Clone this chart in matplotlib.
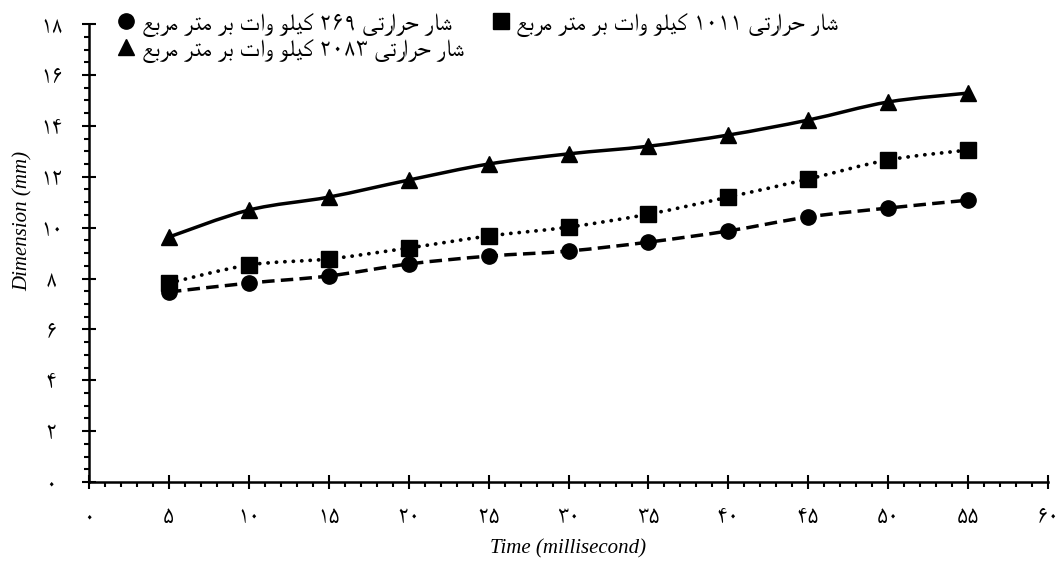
import re

import matplotlib
matplotlib.use("Agg")
import matplotlib.pyplot as plt
import numpy as np
from matplotlib.patches import PathPatch
from matplotlib.path import Path
from matplotlib.ticker import MultipleLocator

# data
TIME = [5, 10, 15, 20, 25, 30, 35, 40, 45, 50, 55]
DIM_269 = [7.47, 7.82, 8.10, 8.57, 8.88, 9.08, 9.43, 9.87, 10.42, 10.77, 11.08]
DIM_1011 = [7.82, 8.53, 8.77, 9.20, 9.67, 10.02, 10.53, 11.20, 11.91, 12.66, 13.05]
DIM_2083 = [9.63, 10.69, 11.20, 11.87, 12.50, 12.90, 13.20, 13.64, 14.23, 14.94, 15.29]

LABEL_269 = "شار حرارتی ۲۶۹ کیلو وات بر متر مربع"
LABEL_1011 = "شار حرارتی ۱۰۱۱ کیلو وات بر متر مربع"
LABEL_2083 = "شار حرارتی ۲۰۸۳ کیلو وات بر متر مربع"

X_TICKS = [0, 5, 10, 15, 20, 25, 30, 35, 40, 45, 50, 55, 60]
Y_TICKS = [0, 2, 4, 6, 8, 10, 12, 14, 16, 18]
X_LABEL = "Time (millisecond)"
Y_LABEL = "Dimension (mm)"

ARABIC_FONT = ["FreeSerif", "DejaVu Sans"]
LATIN_FONT = ["Liberation Serif", "DejaVu Serif"]

# presentation forms: isolated, final, initial, medial (None = does not join forward)
FORMS = {
    "ا": ("\uFE8D", "\uFE8E", None, None),
    "ب": ("\uFE8F", "\uFE90", "\uFE91", "\uFE92"),
    "ت": ("\uFE95", "\uFE96", "\uFE97", "\uFE98"),
    "ح": ("\uFEA1", "\uFEA2", "\uFEA3", "\uFEA4"),
    "ر": ("\uFEAD", "\uFEAE", None, None),
    "ش": ("\uFEB5", "\uFEB6", "\uFEB7", "\uFEB8"),
    "ع": ("\uFEC9", "\uFECA", "\uFECB", "\uFECC"),
    "ل": ("\uFEDD", "\uFEDE", "\uFEDF", "\uFEE0"),
    "م": ("\uFEE1", "\uFEE2", "\uFEE3", "\uFEE4"),
    "و": ("\uFEED", "\uFEEE", None, None),
    "ی": ("\uFBFC", "\uFBFD", "\uFBFE", "\uFBFF"),
    "ک": ("\uFB8E", "\uFB8F", "\uFB90", "\uFB91"),
}

FA_DIGITS = str.maketrans("0123456789", "۰۱۲۳۴۵۶۷۸۹")


def _shape(text: str) -> str:
    out = []
    for i, ch in enumerate(text):
        if ch not in FORMS:
            out.append(ch)
            continue
        prev = text[i - 1] if i > 0 else ""
        nxt = text[i + 1] if i + 1 < len(text) else ""
        joins_prev = prev in FORMS and FORMS[prev][2] is not None
        joins_next = FORMS[ch][2] is not None and nxt in FORMS
        iso, fin, ini, med = FORMS[ch]
        if joins_prev and joins_next:
            out.append(med)
        elif joins_prev:
            out.append(fin)
        elif joins_next:
            out.append(ini)
        else:
            out.append(iso)
    return "".join(out)


def visual(text: str) -> str:
    """Shape and reorder RTL text so matplotlib's LTR layout shows it right."""
    rev = _shape(text)[::-1]
    return re.sub(r"[۰-۹]+", lambda m: m.group(0)[::-1], rev)


def fa_num(v) -> str:
    return str(v).translate(FA_DIGITS)


def smooth_path(xs, ys) -> Path:
    # Bezier through the points with Catmull-Rom style tangents (like a spreadsheet "smoothed line")
    pts = np.column_stack([xs, ys]).astype(float)
    verts = [pts[0]]
    codes = [Path.MOVETO]
    n = len(pts)
    for i in range(n - 1):
        p0 = pts[i - 1] if i > 0 else pts[i]
        p1 = pts[i]
        p2 = pts[i + 1]
        p3 = pts[i + 2] if i + 2 < n else pts[i + 1]
        c1 = p1 + (p2 - p0) / 6.0
        c2 = p2 - (p3 - p1) / 6.0
        verts += [c1, c2, p2]
        codes += [Path.CURVE4] * 3
    return Path(verts, codes)


def main() -> None:
    fig = plt.figure(figsize=(10.58, 5.61), dpi=100)
    ax = fig.add_axes([0.0841, 0.1408, 0.9065, 0.8162])

    series = [
        (DIM_269, "o", dict(linestyle=(0, (3.6, 1.8)), capstyle="butt", lw=2.5)),
        (DIM_1011, "s", dict(linestyle=(0, (0.05, 2.2)), capstyle="round", lw=2.7)),
        (DIM_2083, "^", dict(linestyle="-", capstyle="butt", lw=2.5)),
    ]
    handles = []
    for ys, marker, style in series:
        patch = PathPatch(
            smooth_path(TIME, ys),
            facecolor="none",
            edgecolor="black",
            linewidth=style["lw"],
            linestyle=style["linestyle"],
            capstyle=style["capstyle"],
            zorder=2,
        )
        ax.add_patch(patch)
        (h,) = ax.plot(TIME, ys, linestyle="none", marker=marker, markersize=11,
                       color="black", zorder=3)
        handles.append(h)

    ax.set_xlim(0, 60)
    ax.set_ylim(0, 18)
    ax.set_xticks(X_TICKS)
    ax.set_xticklabels([fa_num(v) for v in X_TICKS], family=ARABIC_FONT, fontsize=16.5)
    ax.set_yticks(Y_TICKS)
    ax.set_yticklabels([fa_num(v) for v in Y_TICKS], family=ARABIC_FONT, fontsize=16.5,
                       ha="center")
    ax.xaxis.set_minor_locator(MultipleLocator(1))
    ax.yaxis.set_minor_locator(MultipleLocator(0.5))
    ax.tick_params(which="major", direction="inout", length=10, width=1.5)
    ax.tick_params(which="minor", direction="out", length=3.6, width=1.5)
    ax.tick_params(axis="x", which="major", pad=13)
    ax.tick_params(axis="y", which="major", pad=22)

    for spine in ["top", "right"]:
        ax.spines[spine].set_visible(False)
    for spine in ["left", "bottom"]:
        ax.spines[spine].set_linewidth(1.8)

    ax.set_xlabel(X_LABEL, family=LATIN_FONT, style="italic", fontsize=15)
    ax.set_ylabel(Y_LABEL, family=LATIN_FONT, style="italic", fontsize=15)
    ax.xaxis.set_label_coords(0.5, -0.125)
    ax.yaxis.set_label_coords(-0.059, 0.57)

    # legend: row-major order, circle | square on row 1, triangle on row 2
    order = [0, 2, 1]
    labels = [visual(LABEL_269), visual(LABEL_1011), visual(LABEL_2083)]
    fig.legend(
        [handles[i] for i in order],
        [labels[i] for i in order],
        loc="upper left",
        bbox_to_anchor=(108 / 1058, 1 - 3 / 561),
        ncol=2,
        frameon=False,
        prop={"family": ARABIC_FONT, "size": 17.5},
        handlelength=0.7,
        handletextpad=0.3,
        columnspacing=1.15,
        labelspacing=0.08,
        borderaxespad=0.0,
    )

    fig.savefig("out.png", dpi=100)


if __name__ == "__main__":
    main()
